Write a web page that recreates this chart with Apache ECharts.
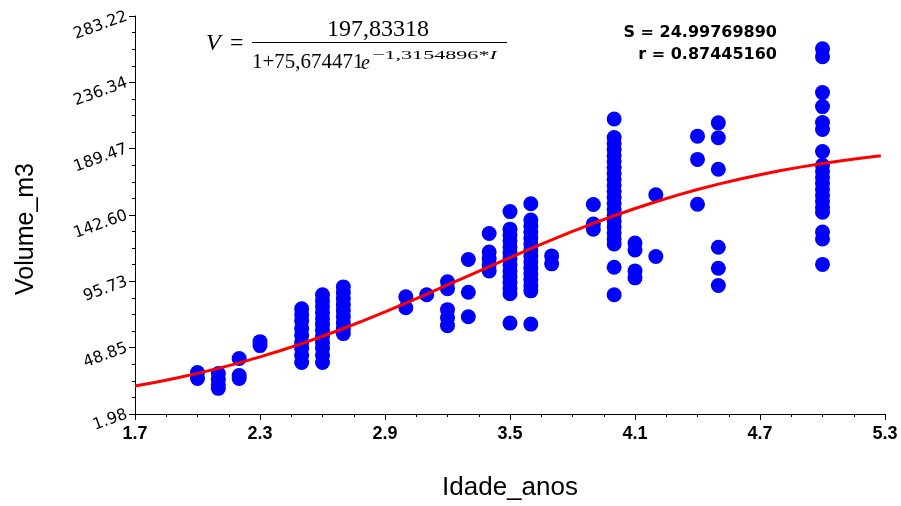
<!DOCTYPE html>
<html>
<head>
<meta charset="utf-8">
<script src="https://cdn.jsdelivr.net/npm/echarts@6/dist/echarts.min.js"></script>
<style>html,body{margin:0;padding:0;background:#fff}#c{width:901px;height:506px}</style>
</head>
<body>
<div id="c"></div>
<script>
// ---- data ----
const xTickLabels = ['1.7', '2.3', '2.9', '3.5', '4.1', '4.7', '5.3'];
const yTickLabels = ['1.98', '48.85', '95.73', '142.60', '189.47', '236.34', '283.22'];

const obsAge = [2.0, 2.1, 2.2, 2.3, 2.5, 2.6, 2.7, 3.0, 3.1, 3.2, 3.3, 3.4, 3.5, 3.6, 3.7, 3.9, 4.0, 4.1, 4.2, 4.4, 4.5, 5.0];
const obsVolume = [
  [31.3, 27.1],
  [30.6, 26.4, 22.9, 20.1],
  [41.2, 29.2, 27.1],
  [53.1, 50.3],
  [76.4, 72.1, 67.9, 62.3, 57.4, 52.4, 48.2, 43.3, 38.4],
  [86.2, 81.9, 77.7, 73.5, 69.3, 65.1, 60.9, 56.7, 52.4, 48.2, 43.3, 38.4],
  [91.8, 87.6, 83.4, 79.2, 75.0, 70.7, 66.5, 62.3, 58.8],
  [84.8, 77.1],
  [86.2],
  [95.4, 90.5, 75.7, 70.0, 64.4],
  [111.2, 88.0, 70.7],
  [129.5, 116.5, 111.6, 107.3, 103.1],
  [145.0, 132.6, 128.4, 124.2, 120.0, 115.8, 111.6, 107.3, 103.1, 98.9, 94.7, 90.5, 87.0, 66.2],
  [150.6, 139.0, 134.8, 130.5, 126.3, 122.1, 117.9, 113.7, 109.4, 105.2, 101.0, 96.8, 92.5, 89.0, 65.5],
  [113.7, 108.1],
  [150.0, 136.2, 132.6],
  [210.4, 197.4, 193.2, 188.9, 184.7, 180.5, 176.3, 172.1, 167.8, 163.6, 159.4, 155.2, 150.9, 146.7, 142.5, 138.3, 134.1, 129.8, 125.6, 122.1, 105.7, 86.2],
  [122.8, 117.9, 103.1, 98.2],
  [156.9, 113.3],
  [198.3, 181.9, 150.2],
  [207.7, 197.2, 174.9, 119.8, 105.0, 92.8],
  [260.0, 254.4, 229.1, 219.2, 208.0, 203.0, 187.5, 177.7, 173.5, 169.3, 165.1, 160.8, 156.6, 152.4, 148.1, 144.6, 130.5, 125.6, 107.7]
];

const curveAge = [1.7, 1.8, 1.9, 2.0, 2.1, 2.2, 2.3, 2.4, 2.5, 2.6, 2.7, 2.8, 2.9, 3.0, 3.1, 3.2, 3.3, 3.4, 3.5, 3.6, 3.7, 3.8, 3.9, 4.0, 4.1, 4.2, 4.3, 4.4, 4.5, 4.6, 4.7, 4.8, 4.9, 5.0, 5.1, 5.2, 5.28];
const curveVolume = [21.77, 24.46, 27.42, 30.68, 34.24, 38.13, 42.34, 46.88, 51.75, 56.93, 62.41, 68.16, 74.16, 80.35, 86.69, 93.14, 99.64, 106.13, 112.56, 118.88, 125.03, 130.97, 136.67, 142.08, 147.19, 151.99, 156.46, 160.60, 164.41, 167.91, 171.10, 174.00, 176.62, 178.99, 181.11, 183.02, 184.40];

const statS = 'S = 24.99769890';
const statR = 'r = 0.87445160';

// ---- derived ----
const xMajor = xTickLabels.map(Number);
const yMajor = yTickLabels.map(Number);
function minorsOf(major, n) {
  const out = [];
  for (let i = 0; i < major.length - 1; i++) {
    for (let k = 1; k < n; k++) out.push(major[i] + (major[i + 1] - major[i]) * k / n);
  }
  return out;
}
const xMinor = minorsOf(xMajor, 4);
const yMinor = minorsOf(yMajor, 4);
function nearestLabel(labels, nums) {
  return function (v) {
    let bi = 0, bd = Infinity;
    nums.forEach((n, i) => { const d = Math.abs(n - v); if (d < bd) { bd = d; bi = i; } });
    return labels[bi];
  };
}

const scatterData = [];
obsAge.forEach((a, i) => obsVolume[i].forEach(v => scatterData.push([a, v])));
const curveData = curveAge.map((a, i) => [a, curveVolume[i]]);

const chart = echarts.init(document.getElementById('c'), null, { renderer: 'canvas' });
const serif = '"Liberation Serif","Times New Roman",serif';

chart.setOption({
  animation: false,
  backgroundColor: '#ffffff',
  grid: { left: 135, right: 16, top: 16, bottom: 90 },
  xAxis: [
    {
      type: 'value', min: 1.7, max: 5.3, position: 'bottom',
      axisLine: { show: true, onZero: false, lineStyle: { color: '#000', width: 1 } },
      axisTick: { show: true, customValues: xMajor, length: 6, lineStyle: { color: '#000', width: 1 } },
      axisLabel: {
        customValues: xMajor, formatter: nearestLabel(xTickLabels, xMajor), margin: 11,
        color: '#000', fontFamily: '"Liberation Sans",Arial,sans-serif',
        fontWeight: 'bold', fontSize: 18
      },
      splitLine: { show: false },
      name: 'Idade_anos', nameLocation: 'middle', nameGap: 61,
      nameTextStyle: { color: '#000', fontFamily: '"Liberation Sans",Arial,sans-serif', fontSize: 26 }
    },
    {
      type: 'value', min: 1.7, max: 5.3, position: 'bottom',
      axisLine: { show: false },
      axisTick: { show: true, customValues: xMinor, length: 3, lineStyle: { color: '#000', width: 1 } },
      axisLabel: { show: false },
      splitLine: { show: false }
    }
  ],
  yAxis: [
    {
      type: 'value', min: 1.98, max: 283.22, position: 'left',
      axisLine: { show: true, onZero: false, lineStyle: { color: '#000', width: 1 } },
      axisTick: { show: true, customValues: yMajor, length: 6, lineStyle: { color: '#000', width: 1 } },
      axisLabel: {
        customValues: yMajor, formatter: nearestLabel(yTickLabels, yMajor), margin: 8, rotate: 20,
        color: '#000', fontFamily: '"DejaVu Sans",sans-serif', fontSize: 16
      },
      splitLine: { show: false },
      name: 'Volume_m3', nameLocation: 'middle', nameGap: 96, nameRotate: 90,
      nameTextStyle: { color: '#000', fontFamily: '"Liberation Sans",Arial,sans-serif', fontSize: 25, padding: [0, 28, 0, 0] }
    },
    {
      type: 'value', min: 1.98, max: 283.22, position: 'left',
      axisLine: { show: false },
      axisTick: { show: true, customValues: yMinor, length: 3, lineStyle: { color: '#000', width: 1 } },
      axisLabel: { show: false },
      splitLine: { show: false }
    }
  ],
  series: [
    {
      type: 'scatter', xAxisIndex: 0, yAxisIndex: 0, data: scatterData,
      symbol: 'circle', symbolSize: 15,
      itemStyle: { color: '#0000ff', opacity: 1 }, z: 2
    },
    {
      type: 'line', xAxisIndex: 0, yAxisIndex: 0, data: curveData,
      showSymbol: false, symbol: 'none', smooth: false,
      lineStyle: { color: '#ff0000', width: 3 }, z: 5
    }
  ],
  graphic: [
    { type: 'text', x: 206, y: 44, style: { text: 'V', font: 'italic 24px ' + serif, fill: '#000', verticalAlign: 'middle' } },
    { type: 'text', x: 230, y: 44, style: { text: '=', font: '24px ' + serif, fill: '#000', verticalAlign: 'middle' } },
    { type: 'line', shape: { x1: 252, y1: 42.5, x2: 507, y2: 42.5 }, style: { stroke: '#000', lineWidth: 1 } },
    { type: 'text', x: 378, y: 30, style: { text: '197,83318', font: '24px ' + serif, fill: '#000', align: 'center', verticalAlign: 'middle' } },
    { type: 'text', x: 252, y: 62, style: { text: '1+75,674471', font: '21px ' + serif, fill: '#000', verticalAlign: 'middle' } },
    { type: 'text', x: 361, y: 64, style: { text: 'e', font: 'italic 20px ' + serif, fill: '#000', verticalAlign: 'middle' } },
    {
      type: 'text', x: 372, y: 56, scaleX: 1.7,
      style: { text: '\u22121,3154896*{i|I}', font: '13px ' + serif, fill: '#000', verticalAlign: 'middle',
        rich: { i: { fontStyle: 'italic', fontFamily: serif, fontSize: 13, fill: '#000' } } }
    },
    { type: 'text', x: 777, y: 33, style: { text: statS, font: 'bold 16px "DejaVu Sans",sans-serif', fill: '#000', align: 'right', verticalAlign: 'middle' } },
    { type: 'text', x: 777, y: 55, style: { text: statR, font: 'bold 16px "DejaVu Sans",sans-serif', fill: '#000', align: 'right', verticalAlign: 'middle' } }
  ]
});
</script>
</body>
</html>
